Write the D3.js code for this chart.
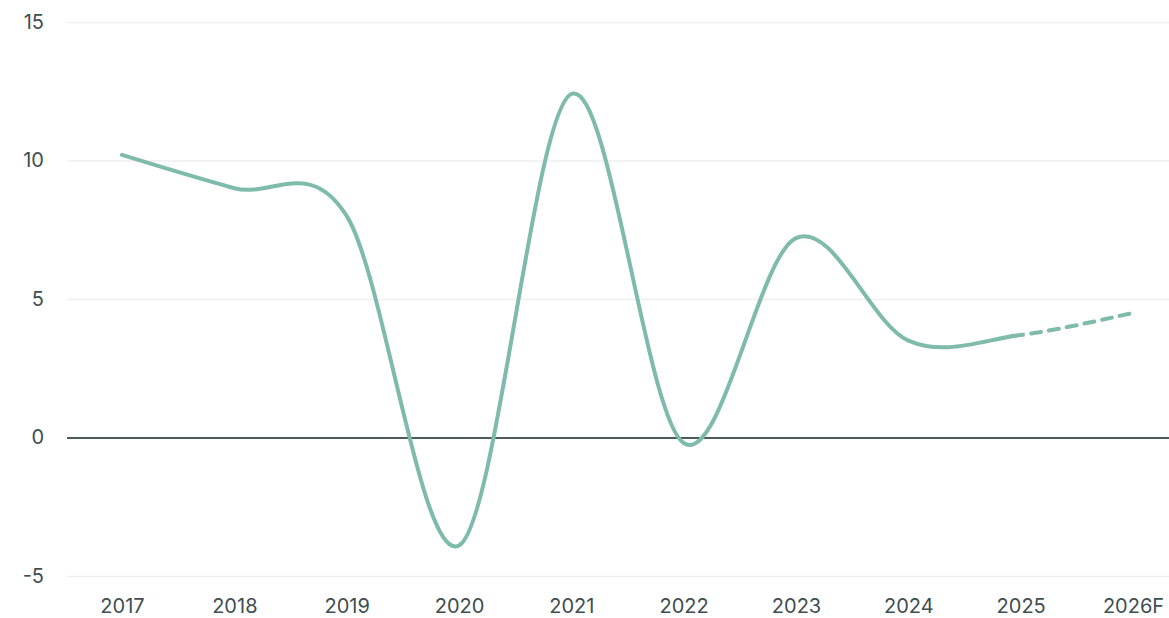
<!DOCTYPE html>
<html>
<head>
<meta charset="utf-8">
<script src="https://cdn.jsdelivr.net/npm/d3@7"></script>
<style>
  body { margin: 0; background: #fff; }
  svg { display: block; }
  .axis text { fill: #3f4e50; font-size: 20px; font-family: Inter, 'Noto Sans', sans-serif; }
</style>
</head>
<body>
<svg width="1169" height="618"></svg>
<script>
// DATA ////////////////////////////////////////////////////////////////////////
const years = ['2017', '2018', '2019', '2020', '2021', '2022', '2023', '2024', '2025', '2026F'];
const values = [10.2, 9.0, 8.0, -3.9, 12.4, -0.2, 7.2, 3.5, 3.7, 4.5];
const yTicks = [-5, 0, 5, 10, 15];
const forecastFrom = '2025';

// SET PARAMETERS //////////////////////////////////////////////////////////////
const svg = d3.select('svg');
const width = +svg.attr('width');
const height = +svg.attr('height');
const plotLeft = 67;
const lineColor = '#7fbbab';

const x = d3.scalePoint().domain(years).range([122, 1133]);
const y = d3.scaleLinear().domain([-5, 15]).range([576, 22]);

const data = years.map((d, i) => ({ year: d, value: values[i] }));

// DRAW ///////////////////////////////////////////////////////////////////////
// y axis + gridlines
const yAxis = svg
  .append('g')
  .attr('class', 'axis axis-y')
  .attr('transform', `translate(${plotLeft},0)`)
  .call(
    d3.axisLeft(y)
      .tickValues(yTicks)
      .tickFormat(d => String(d))
      .tickSize(-(width - plotLeft))
      .tickPadding(23)
  );
yAxis.select('.domain').remove();
yAxis
  .selectAll('.tick line')
  .attr('stroke', d => (d === 0 ? '#4d5a5b' : '#efefef'))
  .attr('stroke-width', d => (d === 0 ? 2 : 1.5));
yAxis.selectAll('.tick').filter(d => d === 0).raise();

// x axis
const xAxis = svg
  .append('g')
  .attr('class', 'axis axis-x')
  .attr('transform', `translate(0,${y(-5)})`)
  .call(d3.axisBottom(x).tickSize(0).tickPadding(23));
xAxis.select('.domain').remove();

// line (catmull-rom), solid up to the forecast point, dashed after
const line = d3
  .line()
  .x(d => x(d.year))
  .y(d => y(d.value))
  .curve(d3.curveCardinal.tension(0));

const splitX = x(forecastFrom);
const defs = svg.append('defs');
defs.append('clipPath').attr('id', 'clip-actual')
  .append('rect').attr('x', 0).attr('y', 0).attr('width', splitX + 4).attr('height', height);
defs.append('clipPath').attr('id', 'clip-forecast')
  .append('rect').attr('x', splitX + 4).attr('y', 0).attr('width', width - splitX).attr('height', height);

svg.append('path')
  .datum(data)
  .attr('clip-path', 'url(#clip-actual)')
  .attr('fill', 'none')
  .attr('stroke', lineColor)
  .attr('stroke-width', 4)
  .attr('stroke-linecap', 'round')
  .attr('d', line);

const forecast = svg.append('path')
  .datum(data)
  .attr('clip-path', 'url(#clip-forecast)')
  .attr('fill', 'none')
  .attr('stroke', lineColor)
  .attr('stroke-width', 4)
  .attr('stroke-linecap', 'round')
  .attr('d', line);

// find the path length at the forecast point so dashes start there
const node = forecast.node();
const total = node.getTotalLength();
let lo = 0, hi = total;
for (let k = 0; k < 40; k++) {
  const mid = (lo + hi) / 2;
  if (node.getPointAtLength(mid).x < splitX) lo = mid; else hi = mid;
}
forecast
  .attr('stroke-dasharray', '10,8')
  .attr('stroke-dashoffset', -(lo + 10));
</script>
</body>
</html>
